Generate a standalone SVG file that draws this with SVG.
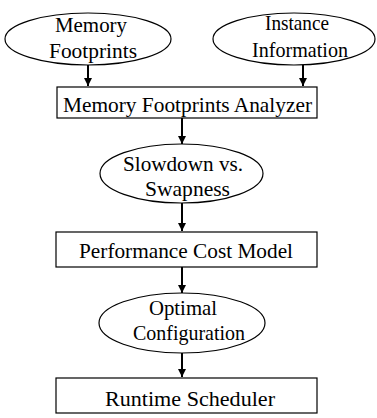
<svg xmlns="http://www.w3.org/2000/svg" width="377" height="418" viewBox="0 0 377 418">
<style>
.n{fill:#fff;stroke:#000;stroke-width:1.2}
.t{font-family:"Liberation Serif","Times New Roman",serif;font-size:22px;fill:#000;text-anchor:middle}
.c{stroke:#000;stroke-width:2;fill:none}
</style>
<defs>
<marker id="ah" viewBox="0 0 8 8" refX="8" refY="4" markerWidth="4" markerHeight="4" orient="auto" markerUnits="strokeWidth">
<path d="M0,0 L8,4 L0,8 z" fill="#000"/>
</marker>
</defs>
<rect width="377" height="418" fill="#fff"/>
<g id="connectors">
<line class="c" x1="88" y1="65" x2="88" y2="86" marker-end="url(#ah)"/>
<line class="c" x1="303" y1="65" x2="303" y2="86" marker-end="url(#ah)"/>
<line class="c" x1="182" y1="118" x2="182" y2="144" marker-end="url(#ah)"/>
<line class="c" x1="182" y1="203" x2="182" y2="231" marker-end="url(#ah)"/>
<line class="c" x1="182" y1="267" x2="182" y2="293" marker-end="url(#ah)"/>
<line class="c" x1="182" y1="353" x2="182" y2="377" marker-end="url(#ah)"/>
</g>
<g id="memory-footprints">
<ellipse class="n" cx="88" cy="39" rx="83" ry="26"/>
<text class="t" x="91" y="32" textLength="72" lengthAdjust="spacingAndGlyphs">Memory</text>
<text class="t" x="93" y="58" textLength="88" lengthAdjust="spacingAndGlyphs">Footprints</text>
</g>
<g id="instance-information">
<ellipse class="n" cx="294" cy="39" rx="81" ry="26"/>
<text class="t" x="297" y="30" textLength="64" lengthAdjust="spacingAndGlyphs">Instance</text>
<text class="t" x="300" y="57" textLength="96" lengthAdjust="spacingAndGlyphs">Information</text>
</g>
<g id="analyzer">
<rect class="n" x="57" y="87" width="260" height="31"/>
<text class="t" x="187.5" y="112" textLength="249" lengthAdjust="spacingAndGlyphs">Memory Footprints Analyzer</text>
</g>
<g id="slowdown">
<ellipse class="n" cx="181.5" cy="173.5" rx="81.5" ry="29.5"/>
<text class="t" x="183" y="171" textLength="120" lengthAdjust="spacingAndGlyphs">Slowdown vs.</text>
<text class="t" x="187.5" y="196" textLength="85" lengthAdjust="spacingAndGlyphs">Swapness</text>
</g>
<g id="cost-model">
<rect class="n" x="56" y="232" width="261" height="35"/>
<text class="t" x="186" y="258" textLength="214" lengthAdjust="spacingAndGlyphs">Performance Cost Model</text>
</g>
<g id="optimal">
<ellipse class="n" cx="182" cy="323" rx="83" ry="30"/>
<text class="t" x="183" y="315" textLength="68" lengthAdjust="spacingAndGlyphs">Optimal</text>
<text class="t" x="189" y="340" textLength="112" lengthAdjust="spacingAndGlyphs">Configuration</text>
</g>
<g id="scheduler">
<rect class="n" x="56" y="378" width="261" height="35"/>
<text class="t" x="190" y="406" textLength="170" lengthAdjust="spacingAndGlyphs">Runtime Scheduler</text>
</g>
</svg>
